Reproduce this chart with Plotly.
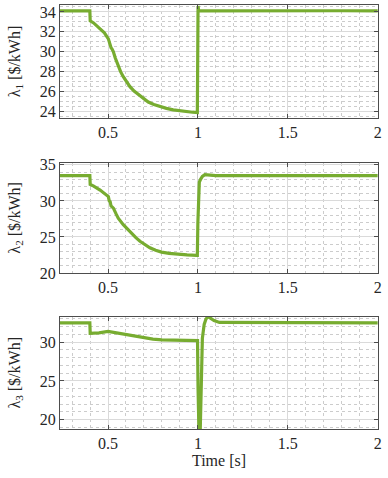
import plotly.graph_objects as go
from plotly.subplots import make_subplots

# lambda_1
t1 = [0.23, 0.399, 0.401, 0.42, 0.456, 0.48, 0.502, 0.507, 0.512, 0.517, 0.522, 0.53, 0.54, 0.557,
      0.57, 0.585, 0.60, 0.622, 0.645, 0.668, 0.695, 0.724, 0.755, 0.789, 0.825, 0.863, 0.90, 0.937,
      0.97, 0.997, 1.001, 1.004, 1.01, 1.2, 1.5, 1.8, 2.0]
l1 = [34.1, 34.1, 33.1, 32.9, 32.3, 31.9, 31.3, 30.9, 30.85, 30.4, 30.3, 30.0, 29.4, 28.5,
      28.0, 27.5, 27.1, 26.5, 26.05, 25.7, 25.3, 24.95, 24.7, 24.5, 24.32, 24.17, 24.07, 24.0,
      23.93, 23.9, 34.6, 34.1, 34.1, 34.12, 34.1, 34.12, 34.1]

# lambda_2
t2 = [0.23, 0.399, 0.401, 0.418, 0.456, 0.48, 0.502, 0.507, 0.512, 0.517, 0.522, 0.53, 0.545,
      0.557, 0.585, 0.61, 0.631, 0.655, 0.678, 0.705, 0.733, 0.765, 0.798, 0.84, 0.882, 0.94,
      0.993, 0.997, 1.0, 1.003, 1.008, 1.015, 1.025, 1.039, 1.06, 1.10, 1.5, 2.0]
l2 = [33.5, 33.5, 32.3, 32.1, 31.5, 31.1, 30.6, 30.0, 29.9, 29.3, 29.2, 29.0, 28.2,
      27.6, 26.7, 26.0, 25.5, 24.9, 24.4, 23.9, 23.5, 23.15, 22.9, 22.72, 22.6, 22.5,
      22.45, 22.45, 27.0, 31.0, 32.6, 33.0, 33.4, 33.65, 33.6, 33.5, 33.5, 33.5]

# lambda_3
t3 = [0.23, 0.399, 0.401, 0.45, 0.50, 0.55, 0.60, 0.65, 0.70, 0.75, 0.80, 0.90, 0.998, 1.001,
      1.005, 1.009, 1.013, 1.018, 1.025, 1.035, 1.045, 1.057, 1.07, 1.09, 1.12, 1.5, 2.0]
l3 = [32.5, 32.5, 31.15, 31.2, 31.4, 31.2, 30.95, 30.7, 30.5, 30.4, 30.3, 30.2, 30.2, 24.0,
      17.0, 15.0, 18.5, 26.0, 30.5, 32.3, 33.0, 33.3, 33.1, 32.8, 32.55, 32.5, 32.5]

green = "#77AC30"
font = "Liberation Serif"
txt = "#262626"

fig = make_subplots(rows=3, cols=1)
for i, (t, y) in enumerate([(t1, l1), (t2, l2), (t3, l3)], start=1):
    fig.add_trace(go.Scatter(x=t, y=y, mode="lines", line=dict(color=green, width=3.2),
                             showlegend=False), row=i, col=1)

domains = [[0.7335, 1.0], [0.368, 0.628], [0.0, 0.265]]
yranges = [[23.35, 34.7], [20, 35.3], [18.8, 33.3]]
ydt = [2, 5, 5]
ymin = [0.5, 1, 1]
ytitles = ["λ<sub>1</sub> [$/kWh]", "λ<sub>2</sub> [$/kWh]", "λ<sub>3</sub> [$/kWh]"]

axis_common = dict(showline=True, linecolor="#4d4d4d", linewidth=1, mirror="ticks",
                   ticks="inside", ticklen=4, tickcolor="#4d4d4d", automargin=False,
                   showgrid=True, gridcolor="#dadada", gridwidth=1, zeroline=False,
                   ticklabeloverflow="allow",
                   tickfont=dict(family=font, size=16, color=txt))

for i in range(3):
    sfx = "" if i == 0 else str(i + 1)
    fig.layout["xaxis" + sfx].update(
        range=[0.233, 2.002], tickmode="array", tickvals=[0.5, 1, 1.5, 2],
        ticktext=["0.5", "1", "1.5", "2"],
        minor=dict(dtick=0.1, tick0=0, showgrid=True, griddash="dot", gridcolor="#cccccc",
                   ticks=""),
        **axis_common)
    fig.layout["yaxis" + sfx].update(
        range=yranges[i], domain=domains[i], dtick=ydt[i], tick0=0,
        minor=dict(dtick=ymin[i], tick0=0, showgrid=True, griddash="dot", gridcolor="#cccccc",
                   ticks=""),
        title=dict(text=ytitles[i], font=dict(family=font, size=16, color=txt), standoff=15),
        **axis_common)

fig.layout.xaxis3.title = dict(text="Time [s]", font=dict(family=font, size=16, color=txt),
                               standoff=2)

fig.update_layout(width=388, height=478, margin=dict(l=60, r=10, t=5, b=49),
                  font=dict(family=font, size=16, color=txt),
                  plot_bgcolor="white", paper_bgcolor="white")

fig.write_html("out.html", config={"displayModeBar": False},
               post_script="document.body.style.margin='0px';")
